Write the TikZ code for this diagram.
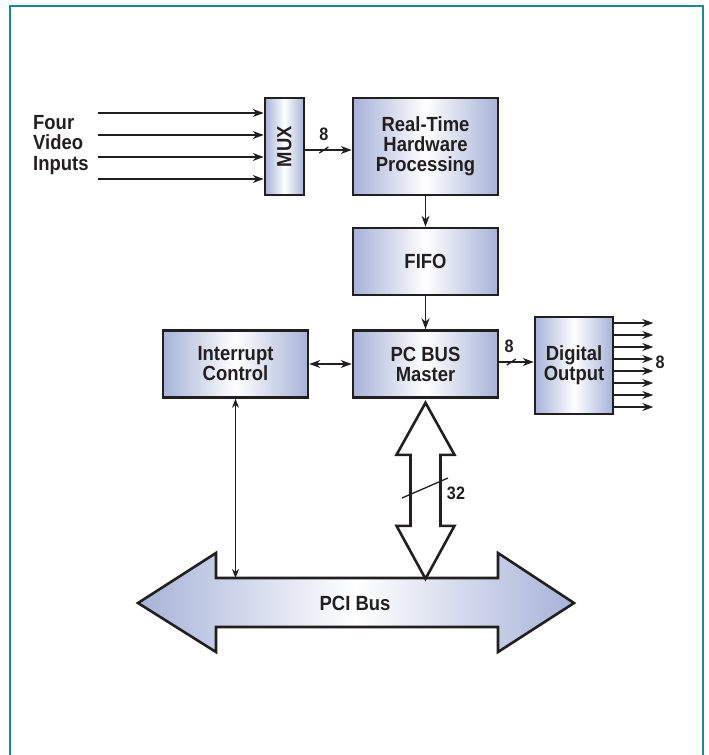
\documentclass[tikz,border=0pt]{standalone}
\usepackage{fontspec}
\setmainfont{Liberation Sans}[FakeStretch=0.9]
\definecolor{boxblue}{RGB}{166,178,216}
\definecolor{frameteal}{RGB}{30,135,150}
\definecolor{inkblack}{RGB}{35,31,32}
\usetikzlibrary{arrows.meta,positioning,calc}

\begin{document}
\begin{tikzpicture}[x=1pt,y=-1pt,
          blk/.style={rectangle,draw=inkblack,line width=2.6pt,inner sep=0pt,
                      left color=boxblue,right color=boxblue,middle color=white,
                      font=\bfseries\fontsize{20.5}{20}\selectfont,text=inkblack,align=center},
          lbl/.style={font=\bfseries\fontsize{18}{18}\selectfont,text=inkblack,inner sep=0pt},
          sig/.style={draw=inkblack,line width=1.4pt,-{Stealth[length=11pt,width=8pt]}},
          twoway/.style={sig,{Stealth[length=11pt,width=8pt]}-{Stealth[length=11pt,width=8pt]}},
          tick/.style={draw=inkblack,line width=1.3pt},
          hollow/.style={draw=inkblack,line width=2.6pt,fill=white,line join=miter}]
        \useasboundingbox (0,0) rectangle (709,755);
        % frame
        \draw[frameteal,line width=2pt] (10,755) -- (10,6) -- (703,6) -- (703,755);

        % blocks
        \node[blk,minimum width=39pt,minimum height=97pt] (mux) at (284.5,146.5) {\rotatebox{90}{MUX}};
        \node[blk,minimum width=145pt,minimum height=97pt] (rthp) at (425.5,146.5) {Real-Time\\Hardware\\Processing};
        \node[blk,minimum width=145pt,minimum height=67pt] (fifo) at (425.5,261.5) {FIFO};
        \node[blk,minimum width=145pt,minimum height=67pt] (pcbm) at (425.5,364) {PC BUS\\Master};
        \node[blk,minimum width=145pt,minimum height=67pt] (intc) at (235.5,364) {Interrupt\\Control};
        \node[blk,minimum width=78pt,minimum height=97pt] (dout) at (574,365.5) {Digital\\Output};
        \node[lbl,font=\bfseries\fontsize{20.5}{20.5}\selectfont,align=left,anchor=west] (vin) at (33,145) {Four\\Video\\Inputs};

        % video inputs
        \foreach \y [count=\k] in {113,135,157,179}
          \draw[sig] (98,\y) coordinate (in\k) -- (mux.west |- in\k);

        % mux to processing
        \draw[sig] ([yshift=-3.5pt]mux.east) -- coordinate[pos=.4] (t1) ([yshift=-3.5pt]rthp.west);
        \draw[tick] ([shift={(-4.5,3)}]t1) -- ([shift={(4.5,-3)}]t1);
        \node[lbl] (n1) at (324,134) {8};

        \draw[sig] (rthp) -- (fifo);
        \draw[sig] (fifo) -- (pcbm);
        \draw[twoway] (intc) -- (pcbm);

        % master to digital output
        \draw[sig] ([yshift=2pt]pcbm.east) -- coordinate[pos=.35] (t2) ([yshift=2pt]pcbm.east -| dout.west);
        \draw[tick] ([shift={(-4.5,3)}]t2) -- ([shift={(4.5,-3)}]t2);
        \node[lbl] (n2) at (509,346) {8};

        \foreach \k in {0,...,7}
          \draw[sig] (dout.east |- 0,{323+12*\k}) -- ++(39,0);
        \node[lbl] (n3) at (660,362) {8};

        % PCI bus
        \draw[draw=inkblack,line width=2.6pt,line join=miter,left color=boxblue,right color=boxblue,middle color=white]
          (138,603) -- (216,553) -- (216,578) coordinate (pcil) -- (498,578) -- (498,553) -- (574,603)
          -- (498,652) -- (498,627) -- (216,627) -- (216,652) -- cycle;
        \node[lbl,font=\bfseries\fontsize{20.5}{20}\selectfont] (pci) at (355,603) {PCI Bus};

        % 32 bit path
        \draw[hollow] ([yshift=-4pt]pcbm.south) coordinate (up) -- ++(29,52) -- ++(-14,0) -- ++(0,71) -- ++(14,0)
          -- ++(-29,53) coordinate (down) -- ++(-29,-53) -- ++(14,0) -- ++(0,-71) -- ++(-14,0) -- cycle;
        \draw[tick] (402,498) -- (448,478);
        \node[lbl] (n4) at (456,493) {32};

        \draw[twoway,line width=1.1pt,{Stealth[length=9pt,width=7pt]}-{Stealth[length=9pt,width=7pt]}] (intc.south) -- (intc.south |- pcil);
        \end{tikzpicture}
\end{document}
